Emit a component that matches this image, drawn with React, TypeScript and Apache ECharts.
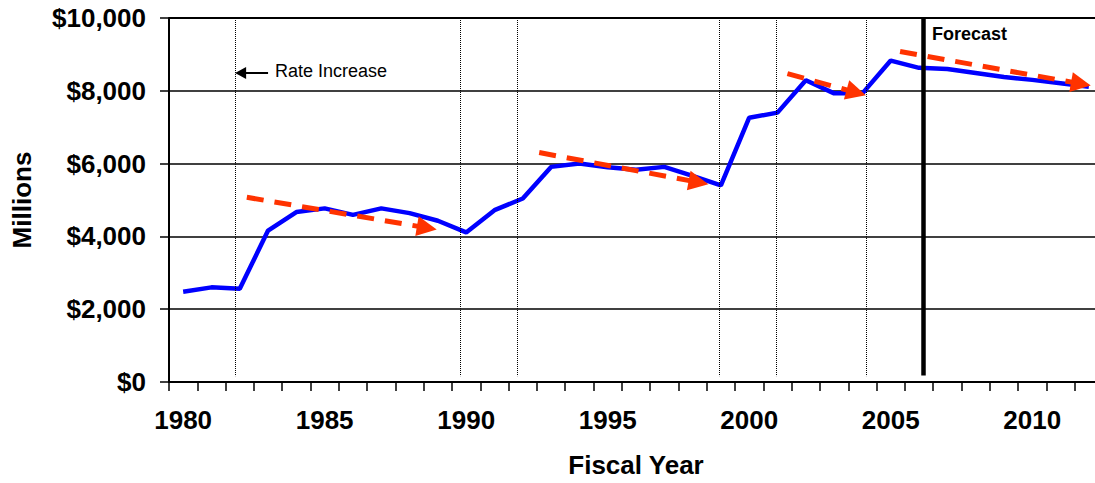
import React, { useEffect, useRef } from "react";
import * as echarts from "echarts";

const years = [
  "1980", "1981", "1982", "1983", "1984", "1985", "1986", "1987", "1988", "1989",
  "1990", "1991", "1992", "1993", "1994", "1995", "1996", "1997", "1998", "1999",
  "2000", "2001", "2002", "2003", "2004", "2005", "2006", "2007", "2008", "2009",
  "2010", "2011", "2012",
];
const revenue = [
  2480, 2600, 2560, 4160, 4670, 4770, 4590, 4770, 4640, 4430,
  4110, 4720, 5040, 5910, 6000, 5900, 5830, 5910, 5660, 5400,
  7260, 7400, 8290, 7930, 7930, 8830, 8630, 8600, 8490, 8380,
  8300, 8210, 8110,
];
// dotted "rate increase" markers (fractional year positions)
const rateIncreaseYears = [1981.83, 1989.78, 1991.8, 1998.93, 2000.95, 2004.13];
const forecastYear = 2006.14;
// trend arrows: [start [year, value], end [year, value]]
const trendArrows: number[][][] = [
  [[1982.25, 5074], [1988.61, 4235]],
  [[1992.58, 6303], [1998.21, 5486]],
  [[2001.35, 8470], [2003.78, 7951]],
  [[2005.33, 9079], [2011.72, 8191]],
];
const rateArrow: number[][] = [[1983.0, 8489], [1982.03, 8489]];
const rateLabel = "Rate Increase";
const forecastLabel = "Forecast";

const FONT = "'Liberation Sans', Arial, Helvetica, sans-serif";

function fmtMoney(v: number): string {
  return "$" + String(v).replace(/\B(?=(\d{3})+(?!\d))/g, ",");
}

export default function App() {
  const ref = useRef<HTMLDivElement>(null);
  useEffect(() => {
    document.body.style.margin = "0";
    if (!ref.current) return;
    const chart = echarts.init(ref.current, undefined, { renderer: "svg" });
    chart.setOption({
      animation: false,
      grid: { left: 169, top: 18, width: 934, height: 366 },
      xAxis: [
        {
          type: "category",
          data: years,
          boundaryGap: true,
          name: "Fiscal Year",
          nameLocation: "middle",
          nameGap: 70,
          nameTextStyle: { fontFamily: FONT, fontSize: 26, fontWeight: "bold", color: "#000" },
          axisLine: { show: true, lineStyle: { color: "#000", width: 2 } },
          axisTick: { show: true, interval: 0, length: 9, lineStyle: { color: "#000", width: 1.5 } },
          axisLabel: {
            interval: 4,
            margin: 25,
            fontFamily: FONT,
            fontSize: 26,
            fontWeight: "bold",
            color: "#000",
          },
          splitLine: { show: false },
        },
        {
          type: "value",
          min: 1979.5,
          max: 2012.5,
          show: false,
          splitLine: { show: false },
        },
      ],
      yAxis: {
        type: "value",
        min: 0,
        max: 10000,
        interval: 2000,
        name: "Millions",
        nameLocation: "middle",
        nameGap: 134,
        nameTextStyle: { fontFamily: FONT, fontSize: 26, fontWeight: "bold", color: "#000" },
        axisLine: { show: true, lineStyle: { color: "#000", width: 2 } },
        axisTick: { show: true, length: 9, lineStyle: { color: "#000", width: 1.5 } },
        axisLabel: {
          margin: 23,
          fontFamily: FONT,
          fontSize: 26,
          fontWeight: "bold",
          color: "#000",
          formatter: (v: number) => fmtMoney(v),
        },
        splitLine: { show: true, lineStyle: { color: "#000", width: 1.5 } },
      },
      graphic: [
        {
          type: "text",
          x: 275,
          y: 71,
          silent: true,
          style: {
            text: rateLabel,
            fill: "#000",
            font: `18px ${FONT}`,
            verticalAlign: "middle",
            align: "left",
          },
        },
        {
          type: "text",
          x: 932,
          y: 34,
          silent: true,
          style: {
            text: forecastLabel,
            fill: "#000",
            font: `bold 18px ${FONT}`,
            verticalAlign: "middle",
            align: "left",
          },
        },
      ],
      series: [
        {
          type: "line",
          xAxisIndex: 1,
          data: [],
          silent: true,
          markLine: {
            silent: true,
            symbol: ["none", "none"],
            label: { show: false },
            lineStyle: { color: "#000", width: 1, type: "dotted" },
            emphasis: { disabled: true },
            data: rateIncreaseYears.map((x) => [{ coord: [x, 10000] }, { coord: [x, 160] }]),
          },
        },
        {
          type: "line",
          xAxisIndex: 1,
          data: [],
          silent: true,
          markLine: {
            silent: true,
            symbol: ["none", "none"],
            label: { show: false },
            lineStyle: { color: "#000", width: 2, type: "solid" },
            emphasis: { disabled: true },
            data: [[{ coord: [1979.5, 10000] }, { coord: [2012.5, 10000] }]],
          },
        },
        {
          type: "line",
          xAxisIndex: 1,
          data: [],
          silent: true,
          markLine: {
            silent: true,
            symbol: ["none", "none"],
            label: { show: false },
            lineStyle: { color: "#000", width: 4.5, type: "solid" },
            emphasis: { disabled: true },
            data: [[{ coord: [forecastYear, 10000] }, { coord: [forecastYear, 180] }]],
          },
        },
        {
          type: "line",
          xAxisIndex: 0,
          data: revenue,
          symbol: "none",
          silent: true,
          lineStyle: { color: "#0000FF", width: 4.5 },
          z: 3,
        },
        {
          type: "line",
          xAxisIndex: 1,
          data: [],
          silent: true,
          z: 4,
          markLine: {
            silent: true,
            symbol: ["none", "triangle"],
            symbolSize: [20, 20],
            label: { show: false },
            lineStyle: { color: "#FF3300", width: 5, type: [17, 11], opacity: 1 },
            itemStyle: { color: "#FF3300" },
            emphasis: { disabled: true },
            data: trendArrows.map((a) => [{ coord: a[0] }, { coord: a[1] }]),
          },
        },
        {
          type: "line",
          xAxisIndex: 1,
          data: [],
          silent: true,
          markLine: {
            silent: true,
            symbol: ["none", "triangle"],
            symbolSize: [12, 11],
            label: { show: false },
            lineStyle: { color: "#000", width: 2, type: "solid" },
            itemStyle: { color: "#000" },
            emphasis: { disabled: true },
            data: [[{ coord: rateArrow[0] }, { coord: rateArrow[1] }]],
          },
        },
      ],
    });
    return () => chart.dispose();
  }, []);
  return (
    <div style={{ width: 1095, height: 483, overflow: "hidden", position: "relative" }}>
      <div ref={ref} style={{ width: 1112, height: 483 }} />
    </div>
  );
}
